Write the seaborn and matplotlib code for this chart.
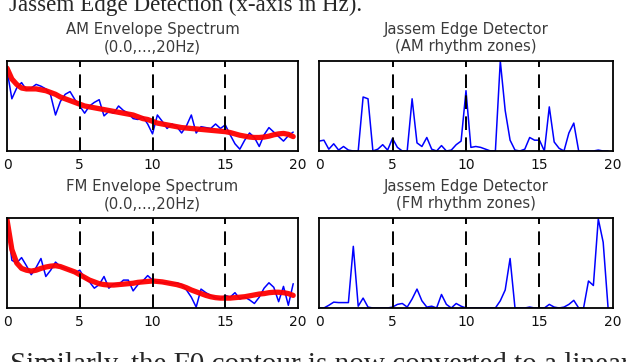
import numpy as np
import pandas as pd
import matplotlib
matplotlib.use("Agg")
import matplotlib.pyplot as plt
import seaborn as sns

# frequency bins (Hz), one every 1/3 Hz
freqs = np.arange(60) / 3.0

am_spectrum = [
    0.90, 0.58, 0.70, 0.76, 0.68, 0.70, 0.74, 0.72, 0.69, 0.62,
    0.40, 0.55, 0.63, 0.66, 0.57, 0.50, 0.42, 0.50, 0.54, 0.57,
    0.39, 0.44, 0.42, 0.50, 0.45, 0.42, 0.36, 0.35, 0.38, 0.30,
    0.19, 0.40, 0.33, 0.25, 0.30, 0.27, 0.20, 0.28, 0.40, 0.20,
    0.27, 0.26, 0.25, 0.30, 0.25, 0.29, 0.18, 0.08, 0.02, 0.12,
    0.20, 0.15, 0.05, 0.18, 0.26, 0.21, 0.16, 0.11, 0.17, 0.21,
]
am_smooth = [
    0.92, 0.80, 0.74, 0.70, 0.69, 0.69, 0.69, 0.68, 0.67, 0.65,
    0.63, 0.60, 0.58, 0.56, 0.54, 0.52, 0.50, 0.49, 0.48, 0.47,
    0.46, 0.45, 0.44, 0.43, 0.42, 0.41, 0.40, 0.38, 0.36, 0.35,
    0.33, 0.31, 0.30, 0.29, 0.28, 0.27, 0.26, 0.255, 0.25, 0.245,
    0.24, 0.235, 0.23, 0.225, 0.22, 0.215, 0.205, 0.19, 0.175, 0.165,
    0.155, 0.15, 0.15, 0.155, 0.165, 0.18, 0.19, 0.195, 0.185, 0.16,
]
fm_spectrum = [
    0.98, 0.53, 0.50, 0.56, 0.47, 0.37, 0.45, 0.55, 0.35, 0.42,
    0.51, 0.46, 0.44, 0.42, 0.39, 0.42, 0.33, 0.29, 0.22, 0.26,
    0.35, 0.22, 0.27, 0.26, 0.31, 0.31, 0.19, 0.26, 0.30, 0.36,
    0.31, 0.29, 0.28, 0.28, 0.27, 0.28, 0.26, 0.20, 0.12, 0.01,
    0.21, 0.17, 0.14, 0.11, 0.10, 0.14, 0.12, 0.17, 0.10, 0.12,
    0.09, 0.05, 0.12, 0.22, 0.28, 0.23, 0.07, 0.24, 0.03, 0.27,
]
fm_smooth = [
    0.98, 0.65, 0.50, 0.44, 0.42, 0.41, 0.42, 0.44, 0.455, 0.465,
    0.47, 0.46, 0.44, 0.42, 0.40, 0.37, 0.34, 0.31, 0.29, 0.27,
    0.26, 0.255, 0.255, 0.26, 0.265, 0.27, 0.275, 0.285, 0.29, 0.295,
    0.30, 0.295, 0.29, 0.28, 0.27, 0.26, 0.245, 0.225, 0.20, 0.18,
    0.16, 0.14, 0.125, 0.115, 0.11, 0.11, 0.11, 0.115, 0.12, 0.125,
    0.135, 0.145, 0.155, 0.16, 0.17, 0.175, 0.175, 0.17, 0.16, 0.14,
]
am_edges = [
    0.11, 0.12, 0.02, 0.08, 0.01, 0.05, 0.01, 0.00, 0.00, 0.60,
    0.58, 0.00, 0.02, 0.07, 0.01, 0.14, 0.04, 0.00, 0.00, 0.58,
    0.09, 0.05, 0.15, 0.02, 0.00, 0.06, 0.00, 0.01, 0.07, 0.11,
    0.67, 0.04, 0.05, 0.04, 0.02, 0.00, 0.00, 1.00, 0.45, 0.12,
    0.01, 0.00, 0.02, 0.15, 0.12, 0.12, 0.00, 0.49, 0.10, 0.03,
    0.00, 0.20, 0.31, 0.00, 0.00, 0.00, 0.00, 0.01, 0.00, 0.00,
]
fm_edges = [
    0.00, 0.00, 0.03, 0.065, 0.06, 0.06, 0.06, 0.685, 0.02, 0.11,
    0.01, 0.00, 0.00, 0.00, 0.00, 0.01, 0.04, 0.05, 0.01, 0.10,
    0.21, 0.08, 0.01, 0.02, 0.00, 0.15, 0.04, 0.00, 0.05, 0.02,
    0.00, 0.00, 0.00, 0.00, 0.00, 0.00, 0.00, 0.08, 0.20, 0.55,
    0.00, 0.00, 0.00, 0.01, 0.00, 0.00, 0.00, 0.04, 0.01, 0.00,
    0.01, 0.04, 0.085, 0.00, 0.00, 0.30, 0.25, 0.99, 0.73, 0.00,
]

zone_marks = [5, 10, 15]
x_ticks = [0, 5, 10, 15, 20]

sns.set_style("white")
plt.rcParams["font.family"] = ["DejaVu Sans"]

fig = plt.figure(figsize=(6.26, 3.62), dpi=100)

panels = [
    ([0.0112, 0.5829, 0.4649, 0.2486], "AM Envelope Spectrum\n(0.0,...,20Hz)", am_spectrum, am_smooth),
    ([0.5096, 0.5829, 0.4696, 0.2486], "Jassem Edge Detector\n(AM rhythm zones)", am_edges, None),
    ([0.0112, 0.1492, 0.4649, 0.2486], "FM Envelope Spectrum\n(0.0,...,20Hz)", fm_spectrum, fm_smooth),
    ([0.5096, 0.1492, 0.4696, 0.2486], "Jassem Edge Detector\n(FM rhythm zones)", fm_edges, None),
]

for rect, title, raw, smooth in panels:
    ax = fig.add_axes(rect)
    df = pd.DataFrame({"Hz": freqs, "raw": raw})
    sns.lineplot(data=df, x="Hz", y="raw", ax=ax, color="#0000ff",
                 linewidth=1.1, estimator=None)
    if smooth is not None:
        sm = pd.DataFrame({"Hz": freqs, "smooth": smooth})
        sns.lineplot(data=sm, x="Hz", y="smooth", ax=ax, color="#ff0000",
                     linewidth=3.8, alpha=0.95, estimator=None)
    for xm in zone_marks:
        ax.axvline(xm, color="black", linewidth=1.4, linestyle=(0, (7, 3.8)))
    ax.set_xlim(0, 20)
    ax.set_ylim(0, 1)
    ax.set_xticks(x_ticks)
    ax.set_yticks([])
    ax.tick_params(axis="x", length=0, pad=5, labelsize=10, labelcolor="#111111")
    ax.set_xlabel("")
    ax.set_ylabel("")
    ax.set_title(title, fontsize=10.7, color="#3a3a3a", pad=7, linespacing=1.2)
    for sp in ax.spines.values():
        sp.set_color("black")
        sp.set_linewidth(1.3)

# surrounding text from the paper page (cut off at the page edges, as in the scan)
fig.text(0.0144, 1 - 11 / 362, "Jassem Edge Detection (x-axis in Hz).",
         family="Liberation Serif", fontsize=16.6, va="baseline", ha="left")
fig.text(0.016, -10 / 362, "Similarly, the F0 contour is now converted to a linear",
         family="Liberation Serif", fontsize=21, va="baseline", ha="left")

fig.savefig("out.png", dpi=100)
